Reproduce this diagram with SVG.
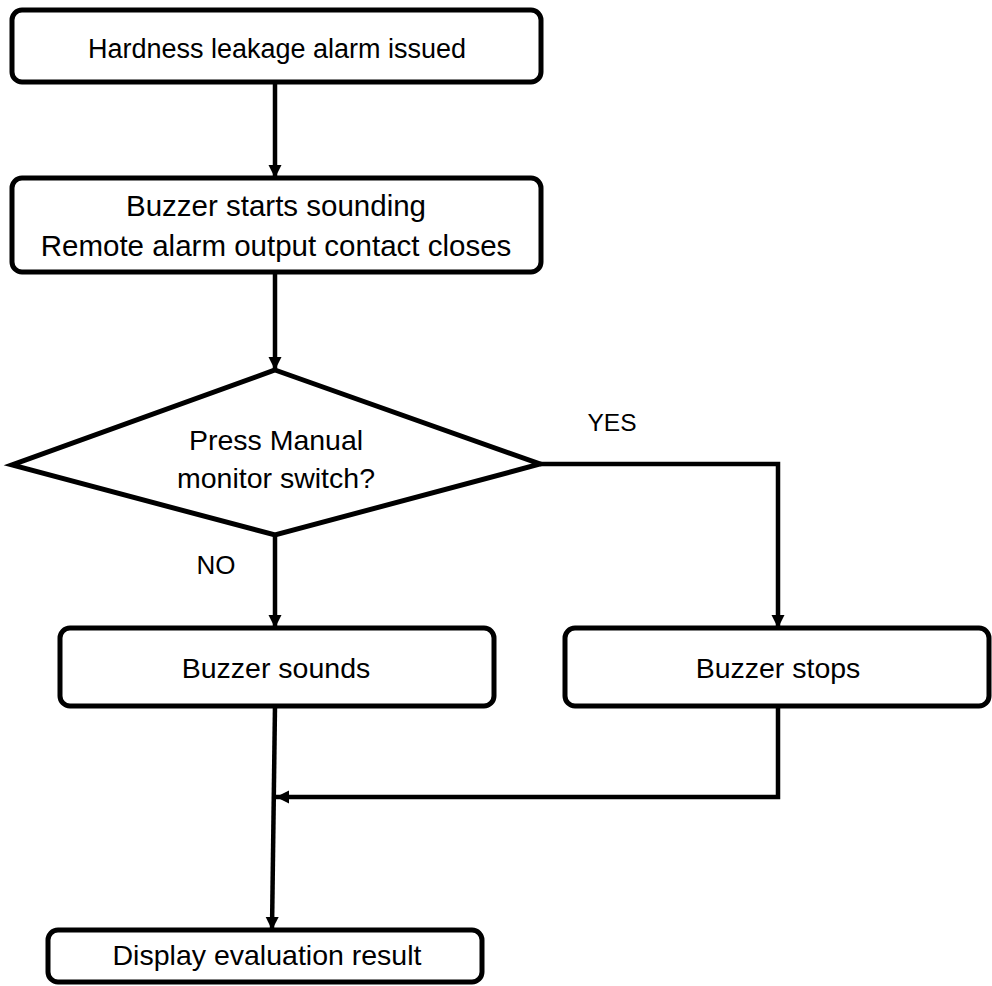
<svg xmlns="http://www.w3.org/2000/svg" width="992" height="986" viewBox="0 0 992 986">
<defs>
<style>
.box{fill:#fff;stroke:#000;stroke-width:5}
.ln{fill:none;stroke:#000;stroke-width:4.5}
text{font-family:"Liberation Sans",Arial,sans-serif;fill:#000;text-anchor:middle}
</style>
<marker id="ah" viewBox="0 0 10 10" refX="10" refY="5" markerWidth="13" markerHeight="14" markerUnits="userSpaceOnUse" orient="auto">
<path d="M0,0 L10,5 L0,10 z" fill="#000"/>
</marker>
</defs>
<rect width="992" height="986" fill="#fff"/>
<g id="connectors">
<line class="ln" x1="275" y1="82" x2="275" y2="178" marker-end="url(#ah)"/>
<line class="ln" x1="275" y1="272" x2="275" y2="370" marker-end="url(#ah)"/>
<line class="ln" x1="275" y1="535" x2="275" y2="628" marker-end="url(#ah)"/>
<polyline class="ln" points="540,464 778,464 778,628" marker-end="url(#ah)"/>
<line class="ln" x1="275" y1="706" x2="272" y2="930" marker-end="url(#ah)"/>
<polyline class="ln" points="778,706 778,797 276,797" marker-end="url(#ah)"/>
</g>
<g id="n1">
<rect class="box" x="12" y="10" width="529" height="72" rx="10"/>
<text x="277" y="58" font-size="27">Hardness leakage alarm issued</text>
</g>
<g id="n2">
<rect class="box" x="12" y="178" width="529" height="94" rx="10"/>
<text x="276" y="216" font-size="29.5">Buzzer starts sounding</text>
<text x="276" y="256" font-size="29.5">Remote alarm output contact closes</text>
</g>
<g id="d1">
<polygon class="box" points="275,370 540,464 275,535 12,465"/>
<text x="276" y="450" font-size="28.5">Press Manual</text>
<text x="276" y="488" font-size="28.5">monitor switch?</text>
</g>
<text x="612" y="431" font-size="24.5">YES</text>
<text x="216" y="574" font-size="26">NO</text>
<g id="n3">
<rect class="box" x="60" y="628" width="434" height="78" rx="10"/>
<text x="276" y="678" font-size="28.5">Buzzer sounds</text>
</g>
<g id="n4">
<rect class="box" x="565" y="628" width="424" height="78" rx="10"/>
<text x="778" y="678" font-size="28.5">Buzzer stops</text>
</g>
<g id="n5">
<rect class="box" x="48" y="930" width="434" height="52" rx="10"/>
<text x="267" y="965" font-size="28.5">Display evaluation result</text>
</g>
</svg>
